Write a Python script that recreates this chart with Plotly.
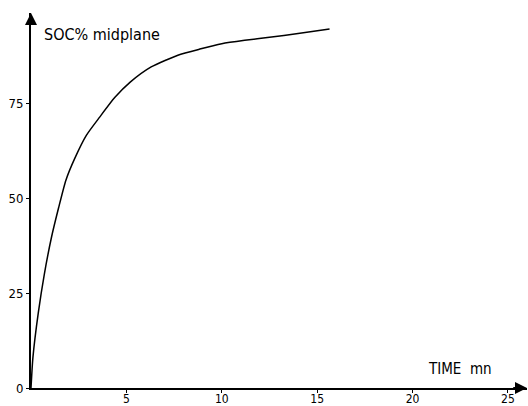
import plotly.graph_objects as go

# Data
time_mn = [0, 0.1, 0.38, 0.7, 1.08, 1.45, 1.83, 2.3, 2.9, 3.6, 4.4, 5.2, 6.3,
           7.7, 8.85, 10, 11.2, 12.5, 14, 15.65]
soc_pct = [0, 8, 19.7, 30, 39.8, 47.5, 54.7, 60.5, 66.5, 71.3, 76.5, 80.5, 84.5,
           87.6, 89.2, 90.6, 91.5, 92.3, 93.3, 94.5]

x_ticks = [5, 10, 15, 20, 25]
y_ticks = [0, 25, 50, 75]

FONT = "DejaVu Sans Condensed, DejaVu Sans, sans-serif"

fig = go.Figure()
fig.add_trace(go.Scatter(
    x=time_mn, y=soc_pct, mode="lines",
    line=dict(color="black", width=1.5, shape="spline", smoothing=0.6),
    showlegend=False, hoverinfo="skip",
))

fig.update_layout(
    width=528, height=406,
    margin=dict(l=31, r=1, t=13, b=18),
    paper_bgcolor="white", plot_bgcolor="white",
    font=dict(family=FONT, size=12, color="black"),
    xaxis=dict(
        range=[0, 26], tickvals=x_ticks, ticktext=[str(v) for v in x_ticks],
        showgrid=False, zeroline=False, showline=True, linecolor="black",
        linewidth=2, ticks="outside", ticklen=3, tickwidth=1, tickcolor="black",
        tickfont=dict(size=12, family=FONT), automargin=False,
        ticklabelstandoff=-4,
    ),
    yaxis=dict(
        range=[0, 98.7], tickvals=y_ticks, ticktext=[str(v) for v in y_ticks],
        showgrid=False, zeroline=False, showline=True, linecolor="black",
        linewidth=2, ticks="outside", ticklen=3, tickwidth=1, tickcolor="black",
        tickfont=dict(size=13, family=FONT), automargin=False,
    ),
    annotations=[
        dict(x=0, y=98.7, xref="x", yref="y", ax=0, ay=95.5, axref="x", ayref="y",
             showarrow=True, arrowhead=2, arrowsize=1.2, arrowwidth=2,
             arrowcolor="black", text=""),
        dict(x=26, y=0, xref="x", yref="y", ax=25.2, ay=0, axref="x", ayref="y",
             showarrow=True, arrowhead=2, arrowsize=1.2, arrowwidth=2,
             arrowcolor="black", text=""),
        dict(x=0.6, y=93, xref="x", yref="y", xanchor="left", yanchor="middle",
             showarrow=False, text="SOC% midplane",
             font=dict(size=16, family=FONT, color="black")),
        dict(x=20.7, y=5, xref="x", yref="y", xanchor="left", yanchor="middle",
             showarrow=False, text="TIME  mn",
             font=dict(size=15, family=FONT, color="black")),
    ],
)

fig.write_html("out.html", config={"displayModeBar": False},
               post_script="document.body.style.margin='0';")
